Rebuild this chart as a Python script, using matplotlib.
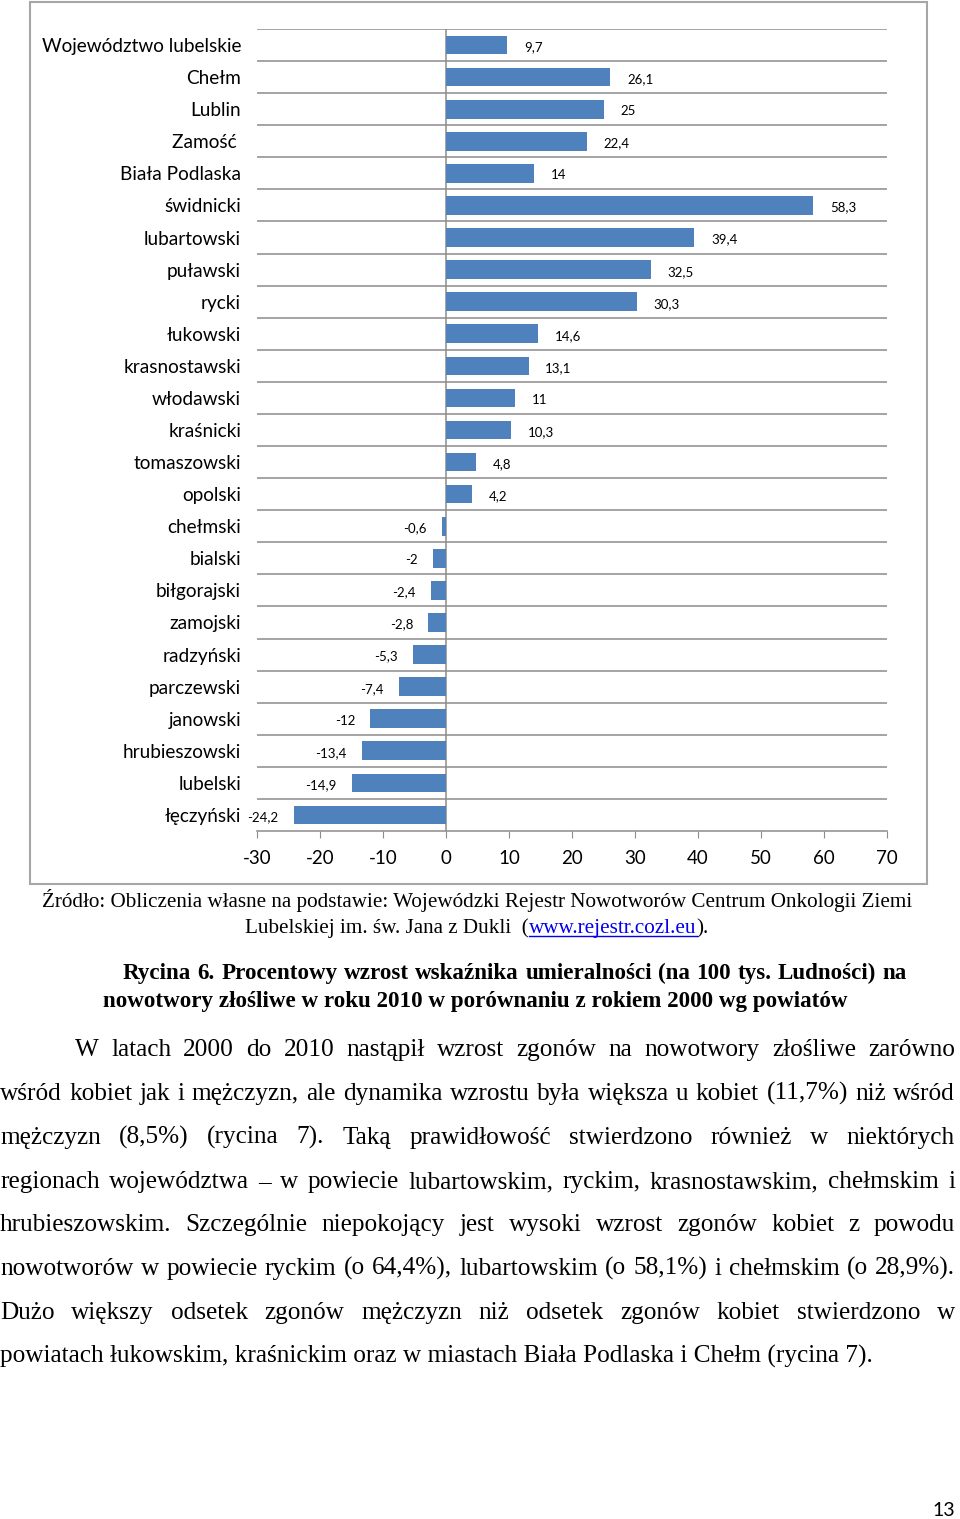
import matplotlib
matplotlib.use('Agg')
import matplotlib.pyplot as plt
from matplotlib.patches import Rectangle
from matplotlib.lines import Line2D
import numpy as np

W, H = 960, 1519

categories = ['Województwo lubelskie', 'Chełm', 'Lublin', 'Zamość ', 'Biała Podlaska',
              'świdnicki', 'lubartowski', 'puławski', 'rycki', 'łukowski',
              'krasnostawski', 'włodawski', 'kraśnicki', 'tomaszowski', 'opolski',
              'chełmski', 'bialski', 'biłgorajski', 'zamojski', 'radzyński',
              'parczewski', 'janowski', 'hrubieszowski', 'lubelski', 'łęczyński']
values = [9.7, 26.1, 25, 22.4, 14, 58.3, 39.4, 32.5, 30.3, 14.6,
          13.1, 11, 10.3, 4.8, 4.2, -0.6, -2, -2.4, -2.8, -5.3,
          -7.4, -12, -13.4, -14.9, -24.2]
xticks = [-30, -20, -10, 0, 10, 20, 30, 40, 50, 60, 70]

source_line1 = 'Źródło: Obliczenia własne na podstawie: Wojewódzki Rejestr Nowotworów Centrum Onkologii Ziemi'
source_line2 = ['Lubelskiej im. św. Jana z Dukli  (', 'www.rejestr.cozl.eu', ').']
caption = ['Rycina 6. Procentowy wzrost wskaźnika umieralności (na 100 tys. Ludności) na',
           'nowotwory złośliwe w roku 2010 w porównaniu z rokiem 2000 wg powiatów']
body = ['W latach 2000 do 2010 nastąpił wzrost zgonów na nowotwory złośliwe zarówno',
        'wśród kobiet jak i mężczyzn, ale dynamika wzrostu była większa u kobiet (11,7%) niż wśród',
        'mężczyzn (8,5%) (rycina 7). Taką prawidłowość stwierdzono również w niektórych',
        'regionach województwa – w powiecie lubartowskim, ryckim, krasnostawskim, chełmskim i',
        'hrubieszowskim. Szczególnie niepokojący jest wysoki wzrost zgonów kobiet z powodu',
        'nowotworów w powiecie ryckim (o 64,4%), lubartowskim (o 58,1%) i chełmskim (o 28,9%).',
        'Dużo większy odsetek zgonów mężczyzn niż odsetek zgonów kobiet stwierdzono w',
        'powiatach łukowskim, kraśnickim oraz w miastach Biała Podlaska i Chełm (rycina 7).']

plt.rcParams['font.family'] = ['Lato', 'DejaVu Sans']
serif = ['Liberation Serif', 'DejaVu Serif']

fig = plt.figure(figsize=(W / 100, H / 100), dpi=100)
renderer = fig.canvas.get_renderer()


def fx(x):
    return x / W


def fy(y):
    return 1 - y / H


# frame round the chart
fig.patches.append(Rectangle((fx(30), fy(884)), fx(927) - fx(30), fy(2) - fy(884),
                             transform=fig.transFigure, fill=False,
                             edgecolor='#a6a6a6', linewidth=1.5))

ax = fig.add_axes([fx(257), fy(831), fx(887) - fx(257), fy(29) - fy(831)])
n = len(categories)
ypos = np.arange(n)
ax.barh(ypos, values, height=0.58, color='#4f81bd', zorder=3)
ax.set_xlim(-30, 70)
ax.set_ylim(n - 0.5, -0.5)
ax.hlines(ypos - 0.5, -30, 70, color='#8c8c8c', lw=1.1, zorder=1)
ax.axvline(0, color='#8c8c8c', lw=1.1, zorder=2)
for s in ['top', 'right', 'left']:
    ax.spines[s].set_visible(False)
ax.spines['bottom'].set_color('#8c8c8c')
ax.spines['bottom'].set_linewidth(1.1)
ax.set_xticks(xticks)
ax.set_xticklabels([str(t) for t in xticks], fontsize=13.5)
ax.tick_params(axis='x', direction='out', length=5, color='#8c8c8c', pad=9)
ax.set_yticks(ypos)
ax.set_yticklabels(categories, fontsize=13.7)
ax.tick_params(axis='y', length=0, pad=11.5)

for y, v in zip(ypos, values):
    lbl = f'{v:g}'.replace('.', ',')
    if v > 0:
        ax.annotate(lbl, (v, y), xytext=(12, -1.5), textcoords='offset points',
                    ha='left', va='center', fontsize=9.5)
    else:
        ax.annotate(lbl, (v, y), xytext=(-11, -1.5), textcoords='offset points',
                    ha='right', va='center', fontsize=9.5)


def justify(line, x0, x1, y, **kw):
    words = line.split()
    texts = [fig.text(0, fy(y), w, va='baseline', **kw) for w in words]
    widths = [t.get_window_extent(renderer).width for t in texts]
    gap = (x1 - x0 - sum(widths)) / (len(words) - 1)
    x = x0
    for t, w in zip(texts, widths):
        t.set_x(fx(x))
        x += w + gap


# source note
fig.text(fx(477), fy(907), source_line1, ha='center', va='baseline',
         family=serif, fontsize=15.2)
parts = [fig.text(0, fy(933), s, va='baseline', family=serif, fontsize=15.2,
                  color='#0000ee' if i == 1 else 'black')
         for i, s in enumerate(source_line2)]
pw = [t.get_window_extent(renderer).width for t in parts]
x = 477 - sum(pw) / 2
for i, (t, w) in enumerate(zip(parts, pw)):
    t.set_x(fx(x))
    if i == 1:
        fig.add_artist(Line2D([fx(x), fx(x + w)], [fy(936), fy(936)],
                              transform=fig.transFigure, color='#0000ee', lw=1))
    x += w

# caption
justify(caption[0], 123, 907, 979, family=serif, fontsize=16.6, fontweight='bold')
fig.text(fx(103), fy(1007), caption[1], va='baseline', family=serif,
         fontsize=16.6, fontweight='bold')

# body text, justified
line_y = [1056, 1100, 1144, 1188, 1231, 1275, 1319, 1363]
for i, (line, y) in enumerate(zip(body, line_y)):
    if i == len(body) - 1:
        fig.text(0, fy(y), line, va='baseline', family=serif, fontsize=18.2)
    else:
        justify(line, 75 if i == 0 else 0, 955, y, family=serif, fontsize=18.2)

fig.text(fx(955), fy(1516), '13', ha='right', va='baseline', fontsize=14)

fig.savefig('out.png', dpi=100)
